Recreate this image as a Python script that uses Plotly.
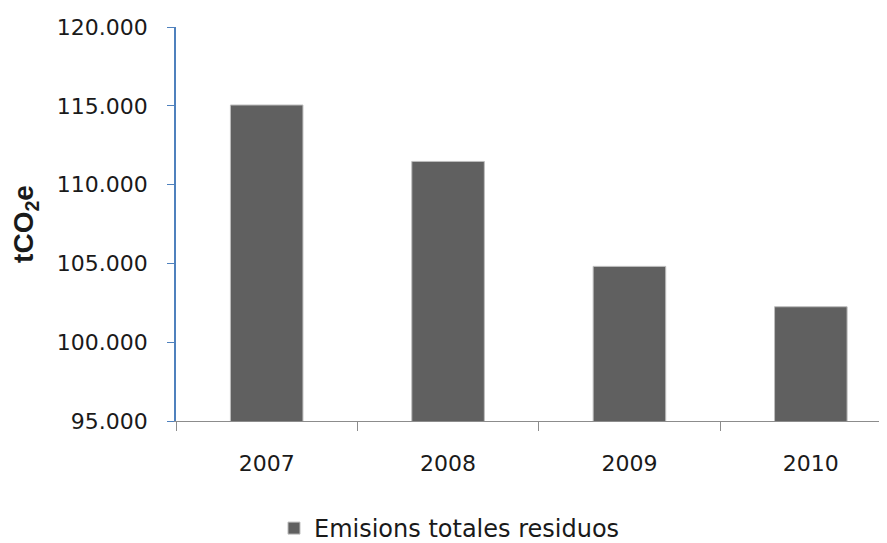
import plotly.graph_objects as go

years = ["2007", "2008", "2009", "2010"]
emisiones = [115050, 111470, 104810, 102250]
series_name = "Emisions totales residuos"
y_ticks = [95000, 100000, 105000, 110000, 115000, 120000]

FONT = "DejaVu Sans"

fig = go.Figure()
fig.add_trace(go.Bar(
    x=years, y=emisiones, name=series_name,
    width=0.4,
    marker=dict(color="#606060", line=dict(color="#bdbdbd", width=1)),
    showlegend=True,
))

fig.update_layout(
    width=879, height=543,
    margin=dict(l=168, r=0, t=19, b=130, autoexpand=False),
    paper_bgcolor="white", plot_bgcolor="white",
    separators=",.",
    font=dict(family=FONT, size=22, color="#1a1a1a"),
    showlegend=True,
    legend=dict(
        orientation="h", xref="container", yref="container",
        x=0.3026, xanchor="left", y=0.0, yanchor="bottom",
        font=dict(family=FONT, size=24, color="#1a1a1a"),
        itemwidth=30,
    ),
)

fig.update_xaxes(
    type="category",
    range=[-0.5, 3.42],
    automargin=False,
    showline=True, linecolor="#8c8c8c", linewidth=1,
    ticks="outside", tickson="boundaries", ticklen=9, tickcolor="#8c8c8c",
    ticklabelstandoff=23,
    showgrid=False, zeroline=False,
    tickfont=dict(family=FONT, size=22, color="#1a1a1a"),
)

fig.update_yaxes(
    range=[95000, 120000],
    automargin=False,
    tickvals=y_ticks, tickformat=",.0f",
    showline=True, linecolor="#4f81bd", linewidth=1.5,
    ticks="outside", ticklen=7, tickcolor="#4f81bd",
    ticklabelstandoff=15,
    showgrid=False, zeroline=False,
    tickfont=dict(family=FONT, size=22, color="#1a1a1a"),
    title=dict(text="<b>tCO<sub>2</sub>e</b>", standoff=27,
               font=dict(family="Liberation Sans", size=28, color="#1a1a1a")),
)

fig.write_html("out.html")
